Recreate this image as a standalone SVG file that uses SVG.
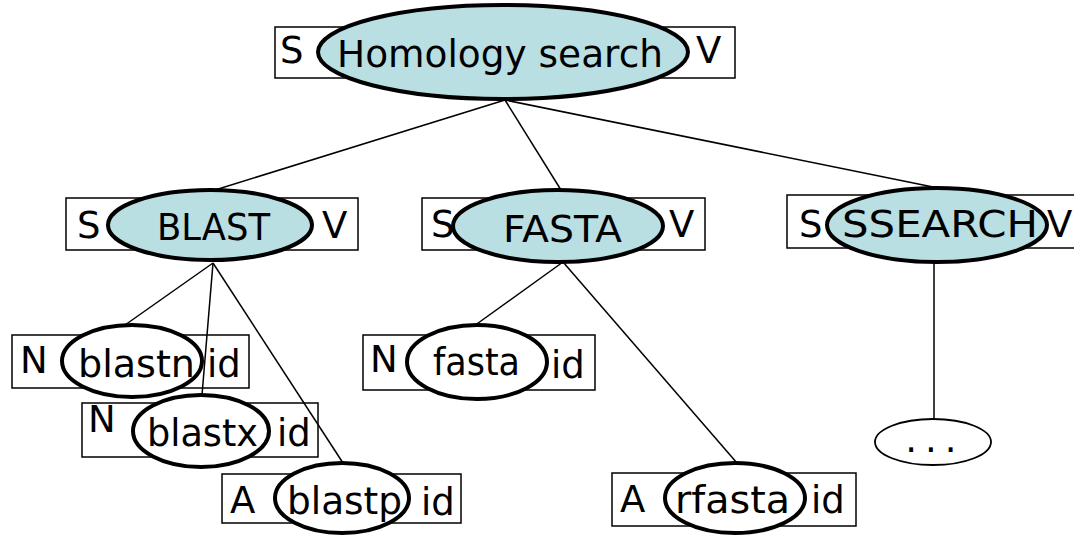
<svg xmlns="http://www.w3.org/2000/svg" width="1074" height="535" viewBox="0 0 1074 535">
<style>
.bx{fill:#fff;stroke:#000;stroke-width:1.5}
.eb{fill:#b9dfe3;stroke:#000;stroke-width:4}
.ew{fill:#fff;stroke:#000;stroke-width:4}
.et{fill:#fff;stroke:#000;stroke-width:1.8}
.t{font-family:"DejaVu Sans",Verdana,sans-serif;font-size:37px;fill:#000}
.c{stroke:#000;stroke-width:1.5;fill:none}
</style>
<rect width="1074" height="535" fill="#fff"/>
<g id="n-homology">
<rect class="bx" x="275" y="27" width="460" height="51"/>
<text class="t" x="280" y="63">S</text>
<text class="t" x="696" y="63">V</text>
<ellipse class="eb" cx="503" cy="52" rx="185" ry="47"/>
<text class="t" x="500" y="67" text-anchor="middle" textLength="326" lengthAdjust="spacingAndGlyphs">Homology search</text>
</g>
<g id="n-blast">
<rect class="bx" x="66" y="198" width="292" height="52"/>
<text class="t" x="77" y="238">S</text>
<text class="t" x="322" y="238">V</text>
<ellipse class="eb" cx="210" cy="225" rx="102" ry="35"/>
<text class="t" x="213.5" y="240" text-anchor="middle" textLength="113" lengthAdjust="spacingAndGlyphs">BLAST</text>
</g>
<g id="n-fasta">
<rect class="bx" x="422" y="198" width="283" height="52"/>
<text class="t" x="431" y="237">S</text>
<text class="t" x="669" y="237">V</text>
<ellipse class="eb" cx="558" cy="226" rx="105" ry="36"/>
<text class="t" x="562.5" y="242" text-anchor="middle" textLength="119" lengthAdjust="spacingAndGlyphs">FASTA</text>
</g>
<g id="n-ssearch">
<rect class="bx" x="787" y="195" width="300" height="53"/>
<text class="t" x="799" y="237">S</text>
<text class="t" x="1047" y="237">V</text>
<ellipse class="eb" cx="937" cy="225" rx="110" ry="37"/>
<text class="t" x="940" y="237" text-anchor="middle" textLength="196" lengthAdjust="spacingAndGlyphs">SSEARCH</text>
</g>
<g id="n-blastn">
<rect class="bx" x="12" y="335" width="237" height="53"/>
<text class="t" x="20" y="373">N</text>
<text class="t" x="207" y="377">id</text>
<ellipse class="ew" cx="132" cy="361" rx="70" ry="36"/>
<text class="t" x="136.5" y="377" text-anchor="middle" textLength="117" lengthAdjust="spacingAndGlyphs">blastn</text>
</g>
<g id="n-blastx">
<rect class="bx" x="82" y="403" width="236" height="54"/>
<text class="t" x="88" y="432">N</text>
<text class="t" x="277" y="446">id</text>
<ellipse class="ew" cx="201" cy="431" rx="68" ry="36"/>
<text class="t" x="202.5" y="446" text-anchor="middle" textLength="111" lengthAdjust="spacingAndGlyphs">blastx</text>
</g>
<g id="n-blastp">
<rect class="bx" x="222" y="474" width="239" height="49"/>
<text class="t" x="230" y="513">A</text>
<text class="t" x="421" y="515">id</text>
<ellipse class="ew" cx="342" cy="498" rx="67" ry="35"/>
<text class="t" x="344.5" y="514" text-anchor="middle" textLength="115" lengthAdjust="spacingAndGlyphs">blastp</text>
</g>
<g id="n-fasta-leaf">
<rect class="bx" x="363" y="335" width="232" height="55"/>
<text class="t" x="370" y="372">N</text>
<text class="t" x="551" y="378">id</text>
<ellipse class="ew" cx="477" cy="362" rx="70" ry="37"/>
<text class="t" x="476.5" y="375" text-anchor="middle" textLength="87" lengthAdjust="spacingAndGlyphs">fasta</text>
</g>
<g id="n-rfasta">
<rect class="bx" x="612" y="473" width="244" height="53"/>
<text class="t" x="620" y="512">A</text>
<text class="t" x="811" y="513">id</text>
<ellipse class="ew" cx="735" cy="498" rx="70" ry="35"/>
<text class="t" x="732.5" y="513" text-anchor="middle" textLength="115" lengthAdjust="spacingAndGlyphs">rfasta</text>
</g>
<g id="n-more">
<ellipse class="et" cx="933" cy="442" rx="58" ry="23"/>
<text class="t" x="935" y="452" text-anchor="middle" font-size="33" letter-spacing="8">...</text>
</g>
<g id="connectors">
<line class="c" x1="505" y1="100" x2="215" y2="190"/>
<line class="c" x1="505" y1="100" x2="561" y2="190"/>
<line class="c" x1="505" y1="100" x2="938" y2="188"/>
<line class="c" x1="213" y1="263" x2="125" y2="325"/>
<line class="c" x1="213" y1="263" x2="202" y2="395"/>
<line class="c" x1="213" y1="263" x2="343" y2="463"/>
<line class="c" x1="563" y1="262" x2="474" y2="326"/>
<line class="c" x1="563" y1="262" x2="737" y2="463"/>
<line class="c" x1="934" y1="262" x2="934" y2="419"/>
</g>
</svg>
